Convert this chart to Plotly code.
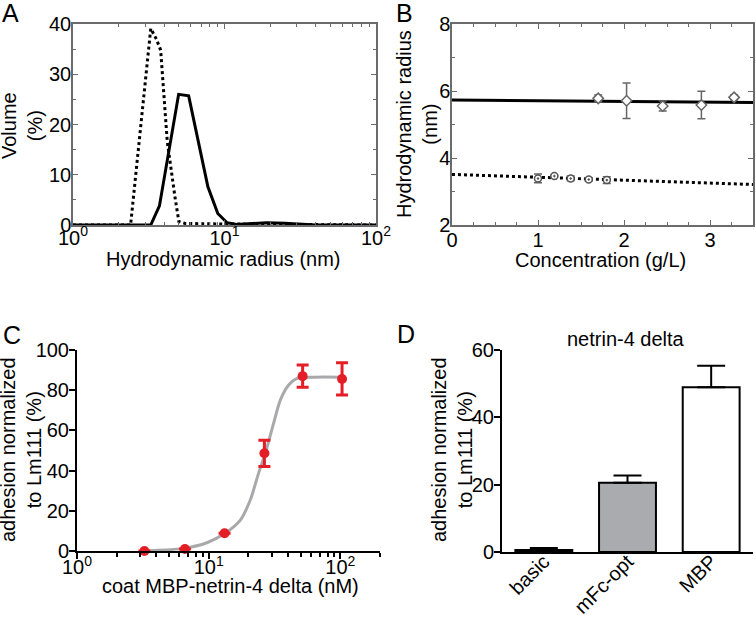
import plotly.graph_objects as go

# ---------------- data ----------------
# Panel A: DLS volume distributions
a_solid_r = [1, 3.26, 3.72, 4.98, 5.8, 6.85, 7.77, 9.03, 10.4, 12, 15, 19, 25, 30, 35, 40, 100]
a_solid_v = [0, 0, 3.8, 26.0, 25.7, 15.6, 7.6, 2.3, 0.46, 0.1, 0.3, 0.45, 0.35, 0.2, 0.05, 0, 0]
a_dot_r = [1, 2.4, 3.26, 3.55, 3.79, 4.19, 4.74, 5.0, 5.5, 6.5, 7.5, 8.5, 10, 100]
a_dot_v = [0, 0, 39.1, 37.0, 34.8, 16.6, 5.0, 0.7, 0.3, 0.3, 0.3, 0.3, 0.2, 0]

# Panel B: hydrodynamic radius vs concentration
b_solid_c = [1.70, 2.03, 2.45, 2.90, 3.28]
b_solid_r = [5.78, 5.71, 5.55, 5.58, 5.81]
b_solid_e = [0.10, 0.53, 0.15, 0.41, 0.07]
b_dot_c = [1.00, 1.19, 1.38, 1.59, 1.80]
b_dot_r = [3.39, 3.46, 3.39, 3.36, 3.34]
b_dot_e = [0.13, 0.03, 0.07, 0.05, 0.10]
b_fit_c = [0, 3.5]
b_fit_solid = [5.73, 5.66]
b_fit_dot = [3.51, 3.21]

# Panel C: adhesion vs coating concentration
c_conc = [3.25, 6.6, 13.2, 26.5, 51.7, 103]
c_adh = [0, 1.0, 8.8, 48.6, 87.0, 85.6]
c_err = [None, None, None, 6.5, 5.5, 8.0]
c_fit_x = [3.4, 3.59, 6.44, 9.69, 13.3, 17.4, 20.7, 23.9, 26.9, 31.1, 35.0, 40.5, 46.9, 62.7, 105]
c_fit_y = [0, 0.15, 1.3, 4.1, 8.8, 15.4, 25.4, 38.6, 48.6, 63.5, 75.1, 82.6, 85.9, 86.5, 86.5]

# Panel D: bars
d_cats = ["basic", "mFc-opt", "MBP"]
d_vals = [0.6, 20.6, 48.9]
d_err = [0.6, 2.1, 6.4]
d_colors = ["#222222", "#a9abae", "#ffffff"]

log_ticks = [1, 10, 100]
log_ticktext = ["10<sup>0</sup>", "10<sup>1</sup>", "10<sup>2</sup>"]
minor_a = [2, 3, 4, 5, 6, 7, 8, 9, 20, 30, 40, 50, 60, 70, 80, 90]
minor_c = [2, 3, 4, 5, 6, 7, 8, 9, 20, 30, 40, 50, 60, 70, 80, 90, 200]

# ---------------- layout helpers ----------------
W, H = 756, 618
FONT = "Liberation Sans, Arial, sans-serif"
FRAME = "#6b6b6b"
RED = "#e31e26"


def xd(x0, x1):
    return [x0 / W, x1 / W]


def yd(top, bottom):
    return [1 - bottom / H, 1 - top / H]


def px(x):
    return x / W


def py(y):
    return 1 - y / H


tickfont = dict(family=FONT, size=20, color="black")

fig = go.Figure()

# Panel A traces
fig.add_trace(go.Scatter(x=a_dot_r, y=a_dot_v, mode="lines", xaxis="x", yaxis="y",
                         line=dict(color="black", width=3, dash="dot"), showlegend=False))
fig.add_trace(go.Scatter(x=a_solid_r, y=a_solid_v, mode="lines", xaxis="x", yaxis="y",
                         line=dict(color="black", width=3), showlegend=False))

# Panel B traces
fig.add_trace(go.Scatter(x=b_fit_c, y=b_fit_solid, mode="lines", xaxis="x2", yaxis="y2",
                         line=dict(color="black", width=3), showlegend=False))
fig.add_trace(go.Scatter(x=b_fit_c, y=b_fit_dot, mode="lines", xaxis="x2", yaxis="y2",
                         line=dict(color="black", width=3, dash="dot"), showlegend=False))
fig.add_trace(go.Scatter(x=b_solid_c, y=b_solid_r, mode="markers", xaxis="x2", yaxis="y2",
                         marker=dict(symbol="diamond", size=8, color="white",
                                     line=dict(color="#666666", width=1.5)),
                         error_y=dict(type="data", array=b_solid_e, color="#666666",
                                      thickness=1.5, width=4),
                         showlegend=False))
fig.add_trace(go.Scatter(x=b_dot_c, y=b_dot_r, mode="markers", xaxis="x2", yaxis="y2",
                         marker=dict(symbol="circle-dot", size=7, color="white",
                                     line=dict(color="#555555", width=1.5)),
                         error_y=dict(type="data", array=b_dot_e, color="#666666",
                                      thickness=1.5, width=4),
                         showlegend=False))

# Panel C traces
fig.add_trace(go.Scatter(x=c_fit_x, y=c_fit_y, mode="lines", xaxis="x3", yaxis="y3",
                         line=dict(color="#a9a9ac", width=3, shape="spline", smoothing=0.8),
                         showlegend=False))
fig.add_trace(go.Scatter(x=c_conc, y=c_adh, mode="markers", xaxis="x3", yaxis="y3",
                         marker=dict(size=10, color=RED),
                         error_y=dict(type="data", array=c_err, color=RED, thickness=3, width=6),
                         cliponaxis=False, showlegend=False))

# Panel D traces
fig.add_trace(go.Bar(x=d_cats, y=d_vals, xaxis="x4", yaxis="y4", width=0.68,
                     marker=dict(color=d_colors, line=dict(color="black", width=2)),
                     error_y=dict(type="data", array=d_err, arrayminus=[0, 0, 0], symmetric=False,
                                  color="black", thickness=2, width=14),
                     showlegend=False))

framed = dict(showline=True, linecolor=FRAME, linewidth=1.5, mirror="allticks",
              ticks="inside", ticklen=5, tickwidth=1, tickcolor=FRAME,
              showgrid=False, zeroline=False, tickfont=tickfont)
plain = dict(showline=True, linecolor="black", linewidth=2, ticks="outside",
             tickwidth=2, tickcolor="black", showgrid=False, zeroline=False,
             tickfont=tickfont)

fig.update_layout(
    width=W, height=H,
    margin=dict(l=0, r=0, t=0, b=0, autoexpand=False),
    paper_bgcolor="white", plot_bgcolor="white",
    font=dict(family=FONT, size=20, color="black"),
    xaxis=dict(domain=xd(73, 376), type="log", range=[0, 2], anchor="y",
               tickvals=log_ticks, ticktext=log_ticktext, ticklabelstandoff=-6,
               minor=dict(ticks="inside", ticklen=3, tickcolor=FRAME, tickvals=minor_a),
               **framed),
    yaxis=dict(domain=yd(24, 225), range=[0, 40], anchor="x", dtick=10,
               ticklabelstandoff=-4,
               minor=dict(ticks="inside", ticklen=3, tickcolor=FRAME, dtick=5),
               **framed),
    xaxis2=dict(domain=xd(452, 753), range=[0, 3.5], anchor="y2", dtick=1,
                ticklabelstandoff=-4,
                minor=dict(ticks="inside", ticklen=3, tickcolor=FRAME, dtick=0.25),
                **framed),
    yaxis2=dict(domain=yd(24, 225), range=[2, 8], anchor="x2", dtick=2,
                ticklabelstandoff=-4,
                minor=dict(ticks="inside", ticklen=3, tickcolor=FRAME, dtick=1),
                **framed),
    xaxis3=dict(domain=xd(77, 380), type="log", range=[0, 2.30103], anchor="y3",
                tickvals=log_ticks, ticktext=log_ticktext, ticklen=6, ticklabelstandoff=-9,
                minor=dict(ticks="outside", ticklen=4, tickcolor="black", tickwidth=1.5,
                           tickvals=minor_c),
                **plain),
    yaxis3=dict(domain=yd(350, 551), range=[0, 100], anchor="x3", dtick=20, ticklen=6,
                ticklabelstandoff=-4, **plain),
    xaxis4=dict(domain=xd(502, 753), range=[-0.5, 2.5], anchor="y4", type="category",
                showline=True, linecolor="black", linewidth=2, ticks="",
                tickangle=-45, showgrid=False, zeroline=False, tickfont=tickfont,
                ticklabelstandoff=-12),
    yaxis4=dict(domain=yd(350, 552), range=[0, 60], anchor="x4", dtick=20, ticklen=6,
                ticklabelstandoff=-4, **plain),
)

ann = []
# panel letters
for letter, x, y in [("A", 10, 13), ("B", 404, 13), ("C", 12, 335), ("D", 406, 334)]:
    ann.append(dict(text=letter, x=px(x), y=py(y), xref="paper", yref="paper",
                    xanchor="center", yanchor="middle", showarrow=False,
                    font=dict(family=FONT, size=25, color="black")))
# axis titles
titles = [
    ("Hydrodynamic radius (nm)", 223, 259, 0),
    ("Concentration (g/L)", 600, 260, 0),
    ("coat MBP-netrin-4 delta (nM)", 230, 586, 0),
    ("netrin-4 delta", 626, 339, 0),
    ("Volume<br>(%)", 22, 126, -90),
    ("Hydrodynamic radius<br>(nm)", 417, 124, -90),
    ("adhesion normalized<br>to Lm111 (%)", 21, 450, -90),
    ("adhesion normalized<br>to Lm111 (%)", 452, 450, -90),
]
for t, x, y, ang in titles:
    ann.append(dict(text=t, x=px(x), y=py(y), xref="paper", yref="paper",
                    xanchor="center", yanchor="middle", showarrow=False, textangle=ang,
                    font=dict(family=FONT, size=20, color="black")))
fig.update_layout(annotations=ann)

fig.write_html("out.html", config={"displayModeBar": False},
               post_script="document.body.style.margin='0';document.body.style.padding='0';")
